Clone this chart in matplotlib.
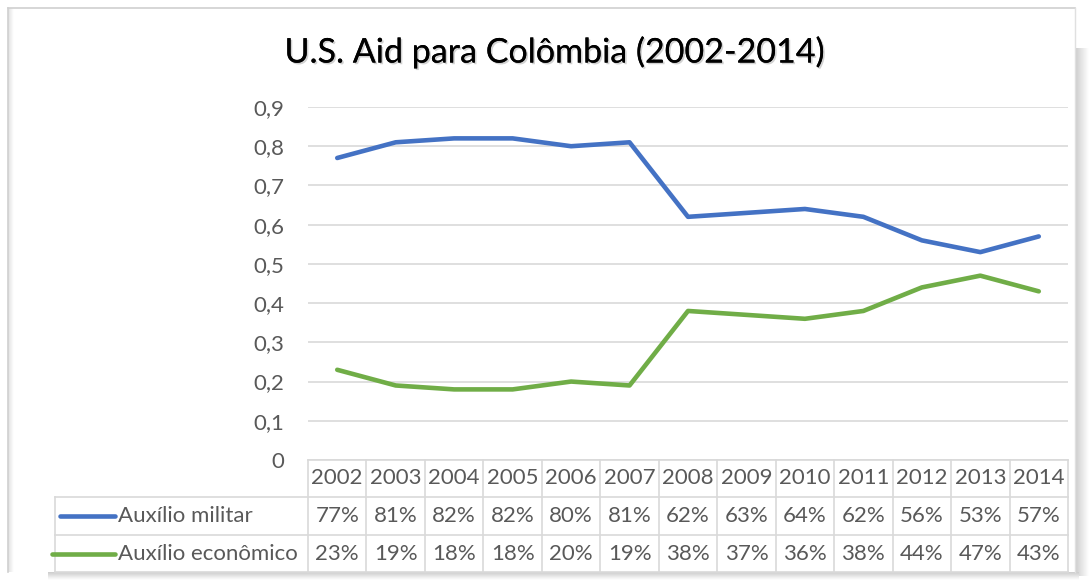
import matplotlib
matplotlib.use("Agg")
import matplotlib.pyplot as plt
import matplotlib.patheffects as pe
from matplotlib.transforms import blended_transform_factory
import numpy as np

# Data
years = ["2002", "2003", "2004", "2005", "2006", "2007", "2008",
         "2009", "2010", "2011", "2012", "2013", "2014"]
military = [0.77, 0.81, 0.82, 0.82, 0.80, 0.81, 0.62, 0.63, 0.64, 0.62, 0.56, 0.53, 0.57]
economic = [0.23, 0.19, 0.18, 0.18, 0.20, 0.19, 0.38, 0.37, 0.36, 0.38, 0.44, 0.47, 0.43]
series_names = ["Auxílio militar", "Auxílio econômico"]
title = "U.S. Aid para Colômbia (2002-2014)"
yticks = [0, 0.1, 0.2, 0.3, 0.4, 0.5, 0.6, 0.7, 0.8, 0.9]

BLUE = "#4472C4"
GREEN = "#70AD47"
TEXT = "#595959"
GRID = "#D9D9D9"
FONT = "Lato"
FS = 16

W, H = 1089, 580
fig = plt.figure(figsize=(W / 100, H / 100), dpi=100)
fig.patch.set_facecolor("white")

# Background layer in pixel coordinates: chart frame with soft shadow
bg = fig.add_axes([0, 0, 1, 1])
bg.set_xlim(0, W)
bg.set_ylim(H, 0)
bg.axis("off")
bg.set_zorder(-10)

fx0, fy0, fx1, fy1 = 8, 8, 1075, 572
# right shadow
grad_r = np.linspace(0.80, 1.0, 40).reshape(1, -1)
bg.imshow(np.repeat(grad_r, 2, axis=0), cmap="gray", vmin=0, vmax=1,
          extent=(fx1, W, fy1 + 4, fy0 + 40), aspect="auto", interpolation="bicubic")
# bottom shadow
grad_b = np.linspace(0.80, 1.0, 20).reshape(-1, 1)
bg.imshow(np.repeat(grad_b, 2, axis=1), cmap="gray", vmin=0, vmax=1,
          extent=(fx0 + 40, fx1 + 4, H, fy1), aspect="auto", interpolation="bicubic")
# left inner shading
grad_l = np.linspace(0.88, 1.0, 10).reshape(1, -1)
bg.imshow(np.repeat(grad_l, 2, axis=0), cmap="gray", vmin=0, vmax=1,
          extent=(fx0, fx0 + 6, fy1, fy0), aspect="auto", interpolation="bicubic")
bg.plot([fx0, fx1], [fy0, fy0], color="#D0D0D0", lw=1.2)
bg.plot([fx0, fx0], [fy0, fy1], color="#D0D0D0", lw=1.2)
bg.plot([fx1, fx1], [fy0, fy1], color="#E0E0E0", lw=1.0)

# Plot area
left_px, right_px, top_px, bot_px = 308, 1068, 107, 460
ax = fig.add_axes([left_px / W, (H - bot_px) / H,
                   (right_px - left_px) / W, (bot_px - top_px) / H])
ax.patch.set_alpha(0)
x = np.arange(len(years))
ax.plot(x, military, color=BLUE, lw=3.3, solid_joinstyle="round",
        solid_capstyle="round", zorder=3)
ax.plot(x, economic, color=GREEN, lw=3.3, solid_joinstyle="round",
        solid_capstyle="round", zorder=3)
ax.set_xlim(-0.5, len(years) - 0.5)
ax.set_ylim(0, 0.9)
ax.set_yticks(yticks)
ax.set_yticklabels([("0" if v == 0 else f"{v:.1f}".replace(".", ",")) for v in yticks],
                   fontsize=FS, color=TEXT, family=FONT)
ax.tick_params(axis="y", length=0, pad=17)
ax.set_xticks([])
for s in ax.spines.values():
    s.set_visible(False)
ax.yaxis.grid(True, color=GRID, lw=1.2)
ax.set_axisbelow(True)

# Title
fig.text(554 / W, 1 - 52 / H, title, ha="center", va="center",
         fontsize=24.5, family=FONT, color="black",
         path_effects=[pe.withSimplePatchShadow(offset=(1.2, -1.2), alpha=0.35,
                                                shadow_rgbFace="#7F7F7F"),
                       pe.Normal()])

# Data table under the plot area
ah = bot_px - top_px
rows_px = [460, 497, 535, 572]
rows = [-(r - bot_px) / ah for r in rows_px]  # axes coordinates
tr = blended_transform_factory(ax.transData, ax.transAxes)
lab_left = (55 - left_px) / (right_px - left_px)

line_kw = dict(color=GRID, lw=1.2, clip_on=False)
# horizontal table lines
ax.plot([-0.5, len(years) - 0.5], [rows[0], rows[0]], transform=tr, **line_kw)
for r in rows[1:]:
    ax.plot([lab_left, 1], [r, r], transform=ax.transAxes, **line_kw)
# vertical table lines
for i in range(len(years) + 1):
    ax.plot([i - 0.5, i - 0.5], [rows[0], rows[3]], transform=tr, **line_kw)
ax.plot([lab_left, lab_left], [rows[1], rows[3]], transform=ax.transAxes, **line_kw)

cell_kw = dict(ha="center", va="center", fontsize=FS, color=TEXT, family=FONT,
               transform=tr, clip_on=False)
for i, yr in enumerate(years):
    ax.text(i, (rows[0] + rows[1]) / 2, yr, **cell_kw)
for vals, r0, r1 in ((military, rows[1], rows[2]), (economic, rows[2], rows[3])):
    for i, v in enumerate(vals):
        ax.text(i, (r0 + r1) / 2, f"{v:.0%}", **cell_kw)

# Legend keys inside the table
key_specs = [(60, BLUE), (52, GREEN)]
for (kx0, col), name, r0, r1 in zip(key_specs, series_names,
                                    (rows[1], rows[2]), (rows[2], rows[3])):
    yc = (r0 + r1) / 2
    ax.plot([(kx0 - left_px) / (right_px - left_px), (115 - left_px) / (right_px - left_px)],
            [yc, yc], transform=ax.transAxes, color=col, lw=3.3,
            solid_capstyle="round", clip_on=False)
    ax.text((118 - left_px) / (right_px - left_px), yc, name, ha="left", va="center",
            fontsize=FS, color=TEXT, family=FONT, transform=ax.transAxes, clip_on=False)

fig.savefig("out.png", dpi=100, facecolor="white")
